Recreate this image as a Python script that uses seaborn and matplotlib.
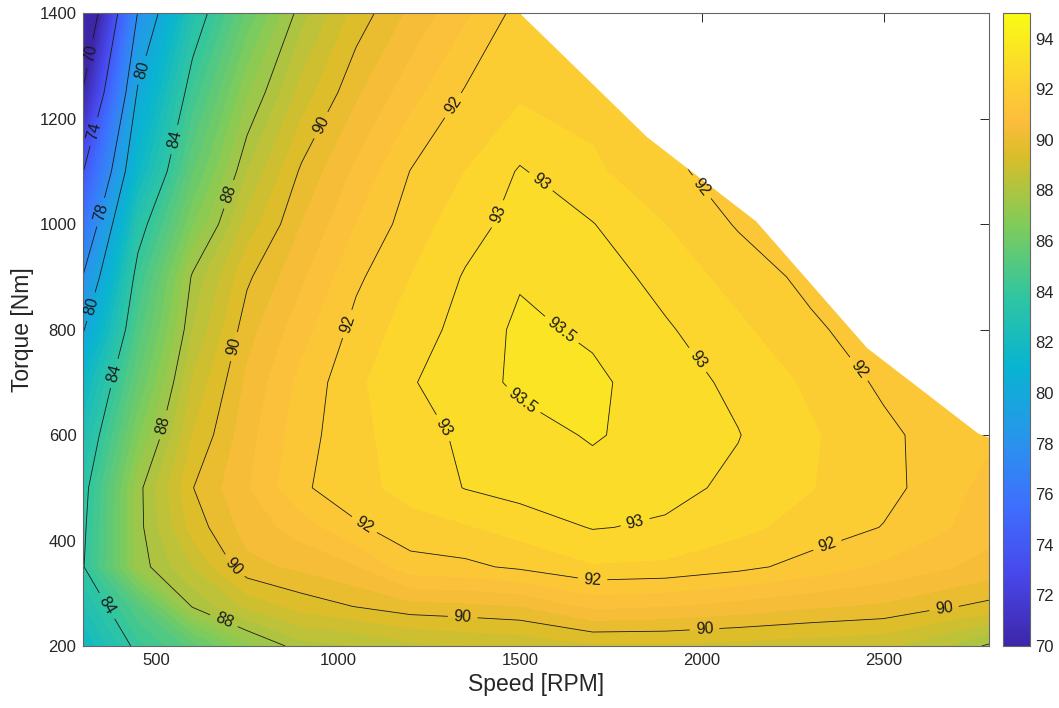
import numpy as np
import matplotlib
matplotlib.use("Agg")
import matplotlib.pyplot as plt
import seaborn as sns
from matplotlib.colors import LinearSegmentedColormap, Normalize
from matplotlib.cm import ScalarMappable
from matplotlib.patches import Polygon

nan = np.nan

# grid (speed in RPM, torque in Nm, efficiency in %)
speeds = [300, 450, 600, 750, 900, 1050, 1200, 1350, 1500, 1700, 1900, 2100, 2300, 2500, 2650, 2790]
torques = [200, 275, 350, 425, 500, 600, 700, 800, 900, 1000, 1100, 1250, 1400]

eff_200 = [82.0, 84.3, 85.7, 87.3, 88.3, 88.5, 88.85, 89.0, 89.1, 89.4, 89.4, 89.3, 89.2, 89.1, 88.6, 87.9]
eff_275 = [82.9, 85.4, 88.05, 89.1, 89.7, 90.02, 90.3, 90.37, 90.48, 91.1, 91.0, 90.8, 90.56, 90.4, 90.1, 89.85]
eff_350 = [83.95, 87.7, 89.0, 90.35, 90.6, 90.95, 91.8, 91.88, 92.1, 92.45, 92.4, 92.15, 91.8, 91.4, 91.1, 90.8]
eff_425 = [83.8, 87.8, 89.7, 90.7, 91.23, 91.92, 92.3, 92.45, 92.7, 93.03, 92.93, 92.63, 92.3, 91.98, 91.6, 91.2]
eff_500 = [83.6, 87.8, 89.98, 90.95, 91.92, 92.33, 92.68, 93.02, 93.2, 93.3, 93.15, 92.89, 92.52, 92.15, 91.8, 91.3]
eff_600 = [82.8, 86.9, 89.5, 90.8, 91.8, 92.35, 92.78, 93.1, 93.3, 93.55, 93.29, 93.02, 92.56, 92.13, 91.8, 91.6]
eff_700 = [81.8, 86.0, 89.06, 90.6, 91.65, 92.38, 92.96, 93.28, 93.6, 93.6, 93.24, 92.88, 92.4, 91.9, 91.6, 91.4]
eff_800 = [79.9, 85.2, 88.5, 90.3, 91.3, 92.17, 92.74, 93.19, 93.6, 93.42, 93.07, 92.6, 92.1, 91.7, 91.4, nan]
eff_900 = [78.1, 84.5, 88.1, 89.9, 90.9, 91.9, 92.5, 93.05, 93.45, 93.3, 92.8, 92.3, 91.85, 91.5, nan, nan]
eff_1000 = [76.1, 83.4, 86.9, 89.2, 90.5, 91.5, 92.25, 92.78, 93.2, 93.02, 92.5, 91.95, 91.6, nan, nan, nan]
eff_1100 = [73.98, 81.8, 85.9, 88.5, 90.1, 91.1, 92.02, 92.5, 93.05, 92.6, 92.1, 91.8, 91.5, nan, nan, nan]
eff_1250 = [70.2, 80.2, 84.6, 87.4, 89.2, 90.4, 91.3, 92.05, 92.4, 92.3, 91.95, 91.8, nan, nan, nan, nan]
eff_1400 = [67.0, 78.1, 83.2, 86.1, 88.3, 89.7, 90.6, 91.4, 92.2, 92.3, 92.1, nan, nan, nan, nan, nan]

# max torque envelope
limit_speed = [1500, 1850, 2150, 2455, 2760, 2790]
limit_torque = [1400, 1165, 1005, 765, 603, 595]

line_levels = [70, 74, 78, 80, 84, 88, 90, 92, 93, 93.5]

# where the contour labels sit (speed, torque)
label_spots = [(318, 1324), (461, 1292), (332, 1175), (533, 1163), (346, 1023),
               (681, 1061), (942, 1192), (324, 843), (695, 771), (1011, 814),
               (1308, 1229), (1562, 1084), (1426, 1023), (1628, 812), (1995, 1068),
               (379, 718), (497, 623), (1266, 604), (1500, 657), (2008, 752),
               (2439, 729), (695, 335), (1069, 426), (1821, 424), (1698, 312),
               (2352, 378), (360, 274), (684, 244), (1343, 255), (2008, 230),
               (2667, 268)]

eff = np.array([eff_200, eff_275, eff_350, eff_425, eff_500, eff_600, eff_700,
                eff_800, eff_900, eff_1000, eff_1100, eff_1250, eff_1400])

sns.set_theme(style="white")
plt.rcParams["font.family"] = ["Liberation Sans", "DejaVu Sans"]

parula = LinearSegmentedColormap.from_list("parula", [
    (0.000, (0.2422, 0.1504, 0.6603)),
    (0.111, (0.2803, 0.2782, 0.9221)),
    (0.222, (0.2440, 0.4358, 0.9988)),
    (0.333, (0.1540, 0.5902, 0.9218)),
    (0.444, (0.0297, 0.7082, 0.8163)),
    (0.556, (0.1938, 0.7758, 0.6251)),
    (0.667, (0.5044, 0.7993, 0.3480)),
    (0.778, (0.8634, 0.7406, 0.1596)),
    (0.830, (0.9900, 0.7400, 0.2400)),
    (0.889, (0.9892, 0.8136, 0.1885)),
    (1.000, (0.9769, 0.9839, 0.0805)),
])
norm = Normalize(70, 95)
# each filled band takes the colour of its lower level, as MATLAB does
band_norm = Normalize(70.25, 95.25)
dark = "#262626"

fig = plt.figure(figsize=(10.59, 7.08), dpi=100)
ax = fig.add_axes([0.0787, 0.0876, 0.8552, 0.8937])
cax = fig.add_axes([0.9474, 0.0876, 0.0252, 0.8937])

cf = ax.contourf(speeds, torques, eff, levels=np.arange(66, 95.5, 0.5),
                 cmap=parula, norm=band_norm)
cs = ax.contour(speeds, torques, eff, levels=line_levels, colors="k", linewidths=0.6)

region = Polygon([(300, 200), (300, 1400)] + list(zip(limit_speed, limit_torque)) + [(2790, 200)],
                 closed=True, transform=ax.transData)
cf.set_clip_path(region)
cs.set_clip_path(region)

ax.clabel(cs, manual=label_spots, fmt=lambda v: f"{v:g}", fontsize=11.5,
          inline=True, inline_spacing=6)

ax.set_xlim(300, 2790)
ax.set_ylim(200, 1400)
ax.set_xticks([500, 1000, 1500, 2000, 2500])
ax.set_yticks([200, 400, 600, 800, 1000, 1200, 1400])
ax.tick_params(direction="in", length=6.5, width=0.7, top=True, right=True,
               labelsize=12, colors=dark, pad=5)
for sp in ax.spines.values():
    sp.set_color("#666666")
    sp.set_linewidth(0.8)
ax.set_xlabel("Speed [RPM]", fontsize=16.5, color=dark)
ax.set_ylabel("Torque [Nm]", fontsize=16.5, color=dark)

cb = fig.colorbar(ScalarMappable(norm=norm, cmap=parula), cax=cax, ticks=list(range(70, 95, 2)))
cb.ax.tick_params(direction="in", length=5, width=0.7, labelsize=12, colors=dark)
cb.outline.set_edgecolor("#666666")
cb.outline.set_linewidth(0.8)

fig.savefig("out.png", dpi=100)
